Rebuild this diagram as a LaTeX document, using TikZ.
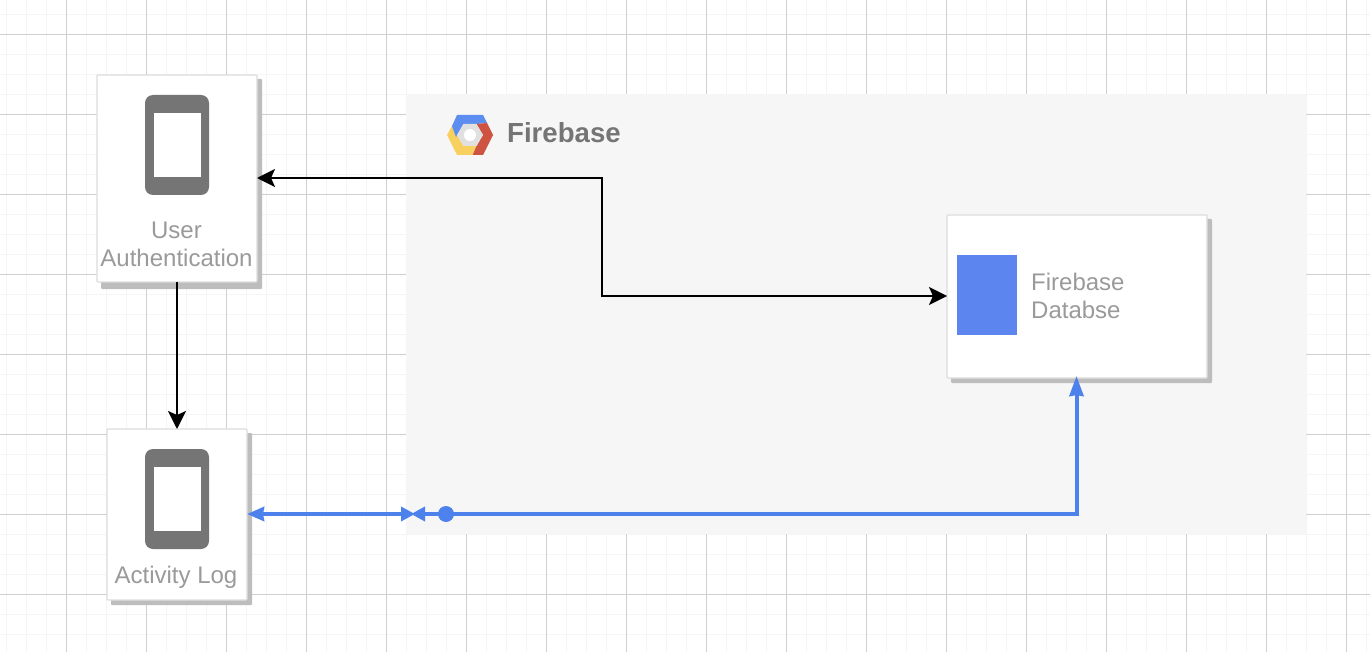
\documentclass[tikz,border=0pt]{standalone}
\usepackage{fontspec}
\setmainfont{Liberation Sans}
\usetikzlibrary{arrows.meta}
\definecolor{gridmin}{HTML}{F5F5F5}
\definecolor{gridmaj}{HTML}{D0D0D0}
\definecolor{panelgray}{HTML}{F6F6F6}
\definecolor{devgray}{HTML}{757575}
\definecolor{labelgray}{HTML}{9A9A9A}
\definecolor{shadowgray}{HTML}{BDBDBD}
\definecolor{edgegray}{HTML}{DDDDDD}
\definecolor{fbblue}{HTML}{4D82EC}
\definecolor{dbblue}{HTML}{5C85F0}
\definecolor{hexblue}{HTML}{5C8DF0}
\definecolor{hexred}{HTML}{CE5340}
\definecolor{hexyellow}{HTML}{F7D060}
\definecolor{hexgray}{HTML}{E0E0E0}
\tikzset{
  x=1pt,y=-1pt,
  card/.style={draw=edgegray,line width=1.4pt,fill=white,rounded corners=1pt,anchor=north west,inner sep=0pt,outer sep=0pt},
  cardshadow/.style={fill=shadowgray,draw=none,rounded corners=1pt},
  lbl/.style={text=labelgray,font=\fontsize{24}{28}\selectfont,align=center,inner sep=0pt},
  lblleft/.style={text=labelgray,font=\fontsize{24}{28}\selectfont,align=left,inner sep=0pt,anchor=west},
  headblack/.tip={Stealth[length=18pt,width=18pt,inset=4pt]},
  blackflow/.style={draw=black,line width=2pt,-headblack},
  blueflow/.style={draw=fbblue,line width=4pt},
}
\begin{document}
\begin{tikzpicture}
\useasboundingbox (0,0) rectangle (1370,652);
\fill[white] (0,0) rectangle (1370,652);
% grid
\foreach \xx in {6.5,26.5,...,1370}{\draw[gridmin,line width=1.6pt] (\xx,0) -- (\xx,652);}
\foreach \yy in {14.5,34.5,...,652}{\draw[gridmin,line width=1.6pt] (0,\yy) -- (1370,\yy);}
\foreach \xx in {66.5,146.5,...,1370}{\draw[gridmaj,line width=1pt] (\xx,0) -- (\xx,652);}
\foreach \yy in {34.5,114.5,...,652}{\draw[gridmaj,line width=1pt] (0,\yy) -- (1370,\yy);}
% panel
\fill[panelgray] (406,94) rectangle (1306,534);
% firebase logo
\fill[hexyellow] (447,135) -- (452,126) -- (457,135) -- (463.5,146) -- (476.5,146) -- (472.7,155) -- (457,155) -- cycle;
\fill[hexblue] (457,115) -- (483,115) -- (487,123) -- (476.5,124) -- (463.5,124) -- (456,137) -- (452,126) -- cycle;
\fill[hexred] (487,123) -- (493,135) -- (483,155) -- (472.7,155) -- (476.5,146) -- (483,135) -- (476.5,124) -- cycle;
\fill[hexgray] (457,135) -- (463.5,124) -- (476.5,124) -- (483,135) -- (476.5,146) -- (463.5,146) -- cycle;
\fill[white] (470,135) circle (6pt);
\node[text=devgray,font=\bfseries\fontsize{27.6}{32}\selectfont,anchor=west,inner sep=0pt] (brand) at (507,132.5) {Firebase};
% shadows
\fill[cardshadow] (101,79) rectangle (262,289);
\fill[cardshadow] (111,433) rectangle (252,605);
\fill[cardshadow] (951,219) rectangle (1212,383);
% cards
\node[card,minimum width=160pt,minimum height=207pt] (auth) at (97,75) {};
\node[card,minimum width=140pt,minimum height=171pt] (log) at (107,429) {};
\node[card,minimum width=260pt,minimum height=163pt] (db) at (947,215) {};
% phones
\fill[devgray,rounded corners=8pt] (145,95) rectangle (209,195);
\fill[white] (153.5,113) rectangle (200.5,177);
\fill[devgray,rounded corners=8pt] (145,449) rectangle (209,549);
\fill[white] (153.5,467) rectangle (200.5,531);
% db icon
\fill[dbblue] (957,255) rectangle (1017,335);
% labels
\node[lbl] (authlabel) at (176.5,244.5) {User\\Authentication};
\node[lbl] (loglabel) at (176,577) {Activity Log};
\node[lblleft] (dblabel) at (1031,296) {Firebase\\Databse};
% connectors
\coordinate (authE) at (auth.east |- 0,178);
\coordinate (dbW) at (db.west |- 0,296);
\coordinate (bendA) at (602,178);
\coordinate (bendB) at (602,296);
\draw[blackflow,headblack-headblack] (authE) -- (bendA) -- (bendB) -- (dbW);
\draw[blackflow] (auth.south) -- (log.north);
% blue
\coordinate (logE) at (log.east |- 0,514);
\coordinate (dot) at (446,514);
\coordinate (bendC) at (1076.5,514);
\coordinate (dbS) at (1076.5,376);
\draw[blueflow,{Stealth[length=17pt,width=14pt,inset=1pt]}-{Stealth[length=14pt,width=14pt,inset=0pt]}] (logE) -- (415,514);
\draw[blueflow,{Stealth[length=14pt,width=14pt,inset=0pt]}-{Stealth[length=20pt,width=14pt,inset=1pt]}] (411,514) -- (bendC) -- (dbS);
\fill[fbblue] (dot) circle (8pt);
\end{tikzpicture}
\end{document}
